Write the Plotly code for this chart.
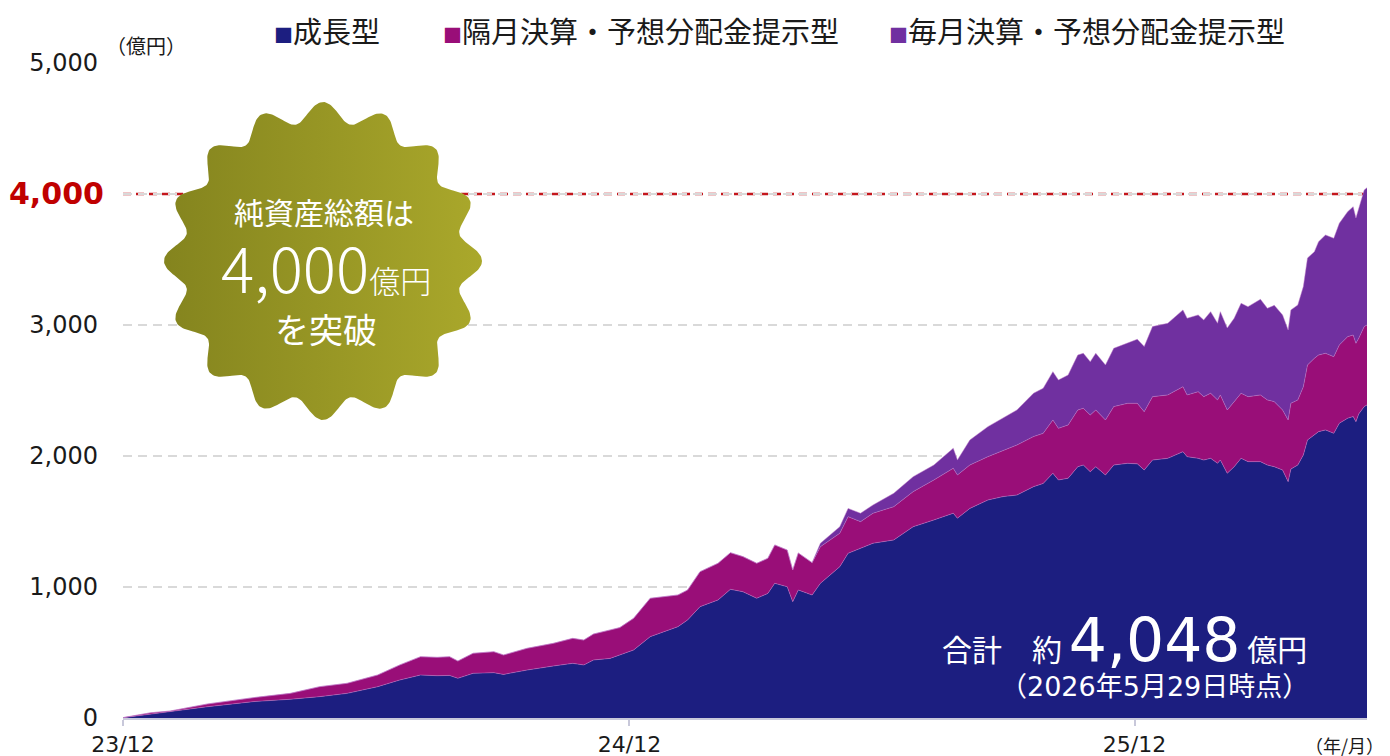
import numpy as np
import plotly.graph_objects as go

# ---- data (億円) ----
dates = [
    "2023-12-01", "2023-12-21", "2024-01-04", "2024-01-31", "2024-03-04", "2024-03-31",
    "2024-04-21", "2024-05-11", "2024-06-02", "2024-06-18", "2024-07-03", "2024-07-15",
    "2024-07-24", "2024-07-30", "2024-08-10", "2024-08-25", "2024-09-01", "2024-09-18",
    "2024-10-07", "2024-10-21", "2024-10-29", "2024-11-05", "2024-11-17", "2024-11-24",
    "2024-12-04", "2024-12-16", "2025-01-05", "2025-01-12", "2025-01-21", "2025-02-03",
    "2025-02-12", "2025-02-21", "2025-03-03", "2025-03-11", "2025-03-16", "2025-03-25",
    "2025-03-29", "2025-04-02", "2025-04-12", "2025-04-18", "2025-05-02", "2025-05-08",
    "2025-05-17", "2025-05-26", "2025-06-10", "2025-06-24", "2025-07-09", "2025-07-23",
    "2025-07-26", "2025-08-04", "2025-08-17", "2025-08-28", "2025-09-07", "2025-09-19",
    "2025-09-26", "2025-10-03", "2025-10-07", "2025-10-14", "2025-10-21", "2025-10-25",
    "2025-10-30", "2025-11-03", "2025-11-10", "2025-11-16", "2025-11-26", "2025-12-03",
    "2025-12-08", "2025-12-14", "2025-12-25", "2026-01-05", "2026-01-08", "2026-01-16",
    "2026-01-20", "2026-01-25", "2026-01-30", "2026-02-01", "2026-02-06", "2026-02-11",
    "2026-02-16", "2026-02-21", "2026-03-02", "2026-03-07", "2026-03-12", "2026-03-18",
    "2026-03-22", "2026-03-24", "2026-03-29", "2026-04-02", "2026-04-05", "2026-04-10",
    "2026-04-13", "2026-04-18", "2026-04-24", "2026-04-28", "2026-05-04", "2026-05-08",
    "2026-05-10", "2026-05-12", "2026-05-16", "2026-05-18",
]
growth = [
    2, 30, 48, 86, 125, 143, 163, 188, 239, 290, 328, 323,
    325, 303, 341, 346, 333, 366, 397, 417, 405, 443, 455, 480,
    519, 621, 697, 748, 850, 901, 982, 964, 914, 951, 1028, 1002,
    888, 977, 939, 1028, 1155, 1257, 1295, 1334, 1359, 1460, 1512, 1563,
    1525, 1600, 1664, 1690, 1702, 1766, 1791, 1868, 1817, 1830, 1918, 1931,
    1880, 1918, 1855, 1931, 1944, 1940, 1893, 1969, 1982, 2033, 1995, 1982,
    1969, 1982, 1944, 1969, 1868, 1918, 1982, 1957, 1957, 1931, 1918, 1893,
    1804, 1900, 1931, 2008, 2122, 2160, 2186, 2199, 2173, 2250, 2288, 2301,
    2262, 2320, 2377, 2390,
]
bimonthly = [
    1, 10, 5, 21, 30, 45, 76, 77, 89, 115, 140, 140,
    143, 132, 153, 160, 148, 166, 173, 191, 190, 198, 217, 210,
    242, 293, 242, 229, 267, 280, 280, 268, 267, 268, 293, 280,
    242, 283, 247, 280, 255, 280, 204, 229, 254, 268, 305, 343,
    330, 331, 331, 350, 382, 382, 382, 407, 394, 407, 433, 433,
    433, 433, 420, 446, 458, 462, 445, 484, 484, 496, 471, 509,
    484, 497, 484, 497, 483, 497, 497, 496, 509, 497, 497, 458,
    471, 502, 497, 521, 573, 586, 585, 585, 585, 598, 623, 623,
    598, 578, 611, 610,
]
monthly = [
    0, 0, 0, 0, 0, 0, 0, 0, 0, 0, 0, 0,
    0, 0, 0, 0, 0, 0, 0, 0, 0, 0, 0, 0,
    0, 0, 0, 0, 0, 0, 0, 0, 0, 0, 0, 0,
    0, 0, 0, 26, 50, 63, 64, 63, 102, 114, 114, 153,
    114, 191, 229, 250, 267, 331, 344, 369, 369, 381, 420, 420,
    407, 433, 420, 445, 458, 489, 497, 535, 547, 586, 585, 586,
    585, 623, 585, 636, 626, 636, 687, 687, 730, 699, 735, 726,
    687, 713, 725, 764, 816, 814, 865, 903, 904, 928, 954, 979,
    957, 995, 1043, 1048,
]

series_names = ["成長型", "隔月決算・予想分配金提示型", "毎月決算・予想分配金提示型"]
series_colors = ["#1c1e80", "#990e78", "#7030a0"]
y_ticks = [0, 1000, 2000, 3000, 4000, 5000]
y_ticktext = ["0", "1,000", "2,000", "3,000", "", "5,000"]
x_ticks = ["2023-12-01", "2024-12-01", "2025-12-01"]
x_ticktext = ["23/12", "24/12", "25/12"]
threshold = 4000

# ---- geometry (screen pixels; the page body adds an 8px margin) ----
PAGE_W, PAGE_H, OFF = 1390, 756, 8
X0, X1, Y0, Y1 = 123, 1367, 63, 718  # plot area on screen
W, H = PAGE_W - OFF, PAGE_H - OFF
FONT = "Noto Sans CJK JP"
NUM_FONT = "DejaVu Sans"
NUM = f"font-family:{NUM_FONT}"


def paper(px, py):
    return (px - X0) / (X1 - X0), (Y1 - py) / (Y1 - Y0)


def note(px, py, text, size, color="#1a1a1a", xanchor="center", family=FONT, weight=None):
    x, y = paper(px, py)
    font = dict(family=family, size=size, color=color)
    if weight:
        font["weight"] = weight
    return dict(
        x=x, y=y, xref="paper", yref="paper", text=text, showarrow=False,
        xanchor=xanchor, yanchor="middle", font=font,
    )


def legend_item(color, name):
    return f"<span style='color:{color};font-size:19px'>■</span>{name}"


def num(text):
    return f"<span style='{NUM}'>{text}</span>"


fig = go.Figure()
for name, values, color in zip(series_names, [growth, bimonthly, monthly], series_colors):
    fig.add_trace(
        go.Scatter(
            x=dates, y=values, name=name, mode="lines", stackgroup="one",
            fillcolor=color, line=dict(color="rgba(190,120,200,0.8)", width=0.6),
            hovertemplate="%{x|%Y/%m/%d}<br>%{y:,} 億円<extra>" + name + "</extra>",
        )
    )

# starburst badge drawn on a screen-pixel overlay axis
theta = np.linspace(0, 2 * np.pi, 721)
radius = 149 + 10 * np.cos(16 * theta)
fig.add_trace(
    go.Scatter(
        x=323 + radius * np.cos(theta), y=261 - radius * np.sin(theta),
        xaxis="x2", yaxis="y2", mode="lines", fill="toself",
        line=dict(width=0, color="rgba(0,0,0,0)"),
        fillgradient=dict(type="horizontal", colorscale=[[0, "#84841e"], [1, "#aaa82b"]]),
        hoverinfo="skip", showlegend=False,
    )
)

annotations = [
    note(146, 45, "（億円）", 20),
    note(1386, 745, "（年/月）", 18, xanchor="right"),
    note(106, 193, "<b>4,000</b>", 30, color="#c00000", xanchor="right", family=NUM_FONT),
    # legend
    note(272, 30, legend_item(series_colors[0], series_names[0]), 29, xanchor="left"),
    note(441, 30, legend_item(series_colors[1], series_names[1]), 29, xanchor="left"),
    note(887, 30, legend_item(series_colors[2], series_names[2]), 29, xanchor="left"),
    # badge text
    note(324, 211, "純資産総額は", 30, color="white"),
    note(326, 266, "4,000<span style='font-size:31px'>億円</span>", 62, color="white", weight=300),
    note(326, 328, "を突破", 34, color="white"),
    # total
    note(1309, 640,
         f"合計\u3000約\u00a0<span style='{NUM};font-size:60px'>4,048</span>\u00a0億円",
         30, color="white", xanchor="right"),
    note(1311, 684, f"（{num('2026')}年{num('5')}月{num('29')}日時点）", 27, color="white", xanchor="right"),
]

# white under-stroke hides the grey grid line behind the red 4,000 line
fig.add_shape(
    type="line", xref="paper", x0=0, x1=1, yref="y", y0=threshold, y1=threshold,
    line=dict(color="white", width=4), layer="between",
)
fig.add_shape(
    type="line", xref="paper", x0=0, x1=1, yref="y", y0=threshold, y1=threshold,
    line=dict(color="#c4161c", width=2.5, dash="8px,5px"), layer="between",
)

fig.update_layout(
    width=W, height=H,
    margin=dict(l=X0 - OFF, r=PAGE_W - X1, t=Y0 - OFF, b=PAGE_H - Y1, autoexpand=False),
    paper_bgcolor="white", plot_bgcolor="white",
    showlegend=False,
    font=dict(family=FONT, color="#1a1a1a"),
    xaxis=dict(
        type="date", range=["2023-12-01", "2026-05-18"],
        tickvals=x_ticks, ticktext=x_ticktext, automargin=False,
        showgrid=False, zeroline=False,
        showline=True, linecolor="#c8c8da", linewidth=1.5,
        ticks="outside", ticklen=6, tickcolor="#c8c8da", tickwidth=1.5,
        tickfont=dict(family=NUM_FONT, size=22, color="#1a1a1a"), ticklabelstandoff=0,
    ),
    yaxis=dict(
        range=[0, 5000], tickvals=y_ticks, ticktext=y_ticktext, automargin=False,
        showgrid=True, gridcolor="#d9d9d9", gridwidth=1.5, griddash="9px,6px",
        zeroline=False, showline=False, ticks="",
        tickfont=dict(family=NUM_FONT, size=24, color="#1a1a1a"), ticklabelstandoff=24,
    ),
    xaxis2=dict(overlaying="x", range=[X0, X1], visible=False, fixedrange=True),
    yaxis2=dict(overlaying="y", range=[Y1, Y0], visible=False, fixedrange=True),
    annotations=annotations,
)

fig.write_html("out.html")
